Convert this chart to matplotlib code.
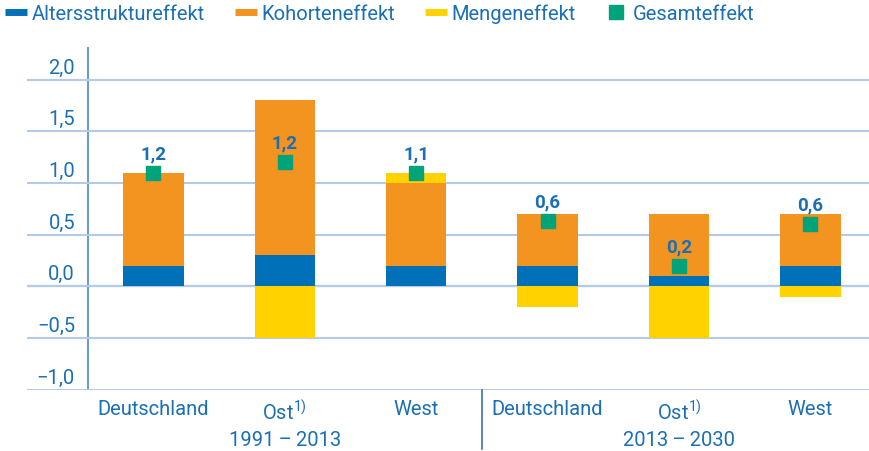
"""
Stacked effect bars (Alters-, Kohorten-, Mengeneffekt) with Gesamteffekt markers.
"""

# Third party import
import numpy as np
import matplotlib
matplotlib.use("Agg")
import matplotlib.pyplot as plt
import matplotlib.transforms as mtransforms
from matplotlib.lines import Line2D


# Data
categories = ["Deutschland", "Ost$^{1)}$", "West",
              "Deutschland", "Ost$^{1)}$", "West"]
periods = ["1991\u2009\u2013\u20092013", "2013\u2009\u2013\u20092030"]
alter = np.array([0.2, 0.3, 0.2, 0.2, 0.1, 0.2])
kohorte = np.array([0.9, 1.5, 0.8, 0.5, 0.6, 0.5])
menge = np.array([0.0, -0.5, 0.1, -0.2, -0.5, -0.1])
gesamt = np.array([1.1, 1.2, 1.1, 0.63, 0.2, 0.6])
gesamt_labels = ["1,2", "1,2", "1,1", "0,6", "0,2", "0,6"]
yticks = [-1.0, -0.5, 0.0, 0.5, 1.0, 1.5, 2.0]

# Colours
c_blue = "#0070b8"
c_orange = "#f39320"
c_yellow = "#ffd200"
c_green = "#00a37a"
c_text = "#1a6fb5"
c_grid = "#b3cbe6"
c_axis = "#6d9bd1"
c_zero = "#3a72b5"

plt.rcParams["font.family"] = ["Roboto", "DejaVu Sans"]
plt.rcParams["mathtext.fontset"] = "custom"
plt.rcParams["mathtext.rm"] = "Roboto"
plt.rcParams["mathtext.it"] = "Roboto:italic"
plt.rcParams["mathtext.bf"] = "Roboto:bold"

fig = plt.figure(figsize=(8.69, 4.52), dpi=100)
ax = fig.add_axes([27 / 869, 1 - 390.7 / 452, 1 - 27 / 869,
                   (390.7 - 48) / 452])

# Stacked bars
x = np.arange(len(categories))
width = 0.46
ax.bar(x, alter, width, color=c_blue, zorder=2)
ax.bar(x, kohorte, width, bottom=alter, color=c_orange, zorder=2)
menge_bottom = np.where(menge >= 0, alter + kohorte, 0)
ax.bar(x, menge, width, bottom=menge_bottom, color=c_yellow, zorder=2)

# Gesamteffekt markers and labels
ax.plot(x, gesamt, "s", color=c_green, markersize=10, zorder=3)
for xi, yi, lab in zip(x, gesamt, gesamt_labels):
    ax.annotate(lab, (xi, yi), xytext=(0, 10.5), textcoords="offset points",
                ha="center", va="baseline", fontsize=13.5, fontweight="bold",
                color=c_text, zorder=4)

# Axes styling
ax.set_xlim(-0.962, 5.446)
ax.set_ylim(-1.0, 2.317)
for spine in ax.spines.values():
    spine.set_visible(False)
ax.set_yticks(yticks)
ax.set_yticklabels(["{:.1f}".format(v).replace(".", ",").replace("-", "\u2212")
                    for v in yticks])
ax.tick_params(axis="y", length=0, pad=-34.6, labelsize=14.5,
               labelcolor=c_text)
shift = mtransforms.ScaledTranslation(0, 0.147, fig.dpi_scale_trans)
for lab in ax.get_yticklabels():
    lab.set_horizontalalignment("right")
    lab.set_transform(lab.get_transform() + shift)
ax.grid(axis="y", color=c_grid, linewidth=1.5, zorder=0)
ax.axhline(0, color=c_zero, linewidth=1.5, zorder=1)
ax.axvline(-0.5, color=c_axis, linewidth=1.5, zorder=1)

ax.set_xticks(x)
ax.set_xticklabels(categories)
ax.tick_params(axis="x", length=0, pad=6.7, labelsize=14.5,
               labelcolor=c_text)

# Period labels and divider below the axis
trans = mtransforms.blended_transform_factory(ax.transData, ax.transAxes)
for i, period in enumerate(periods):
    ax.text(1 + 3 * i, -0.144, period, transform=trans, ha="center",
            va="center", fontsize=14.5, color=c_text)
ax.plot([2.5, 2.5], [0, -0.173], transform=trans, color=c_zero,
        linewidth=1.2, clip_on=False)

# Legend
handles = [
    Line2D([], [], color=c_blue, linewidth=5, solid_capstyle="butt"),
    Line2D([], [], color=c_orange, linewidth=5, solid_capstyle="butt"),
    Line2D([], [], color=c_yellow, linewidth=5, solid_capstyle="butt"),
    Line2D([], [], color=c_green, marker="s", markersize=10, linestyle=""),
]
labels = ["Altersstruktureffekt", "Kohorteneffekt", "Mengeneffekt",
          "Gesamteffekt"]
fig.legend(handles, labels, loc="upper left", bbox_to_anchor=(5 / 869, 0.99),
           ncol=4, frameon=False, fontsize=14.5, labelcolor=c_text,
           handlelength=1.1, handletextpad=0.25, columnspacing=1.45,
           borderpad=0, borderaxespad=0)

fig.savefig("out.png", dpi=100)
